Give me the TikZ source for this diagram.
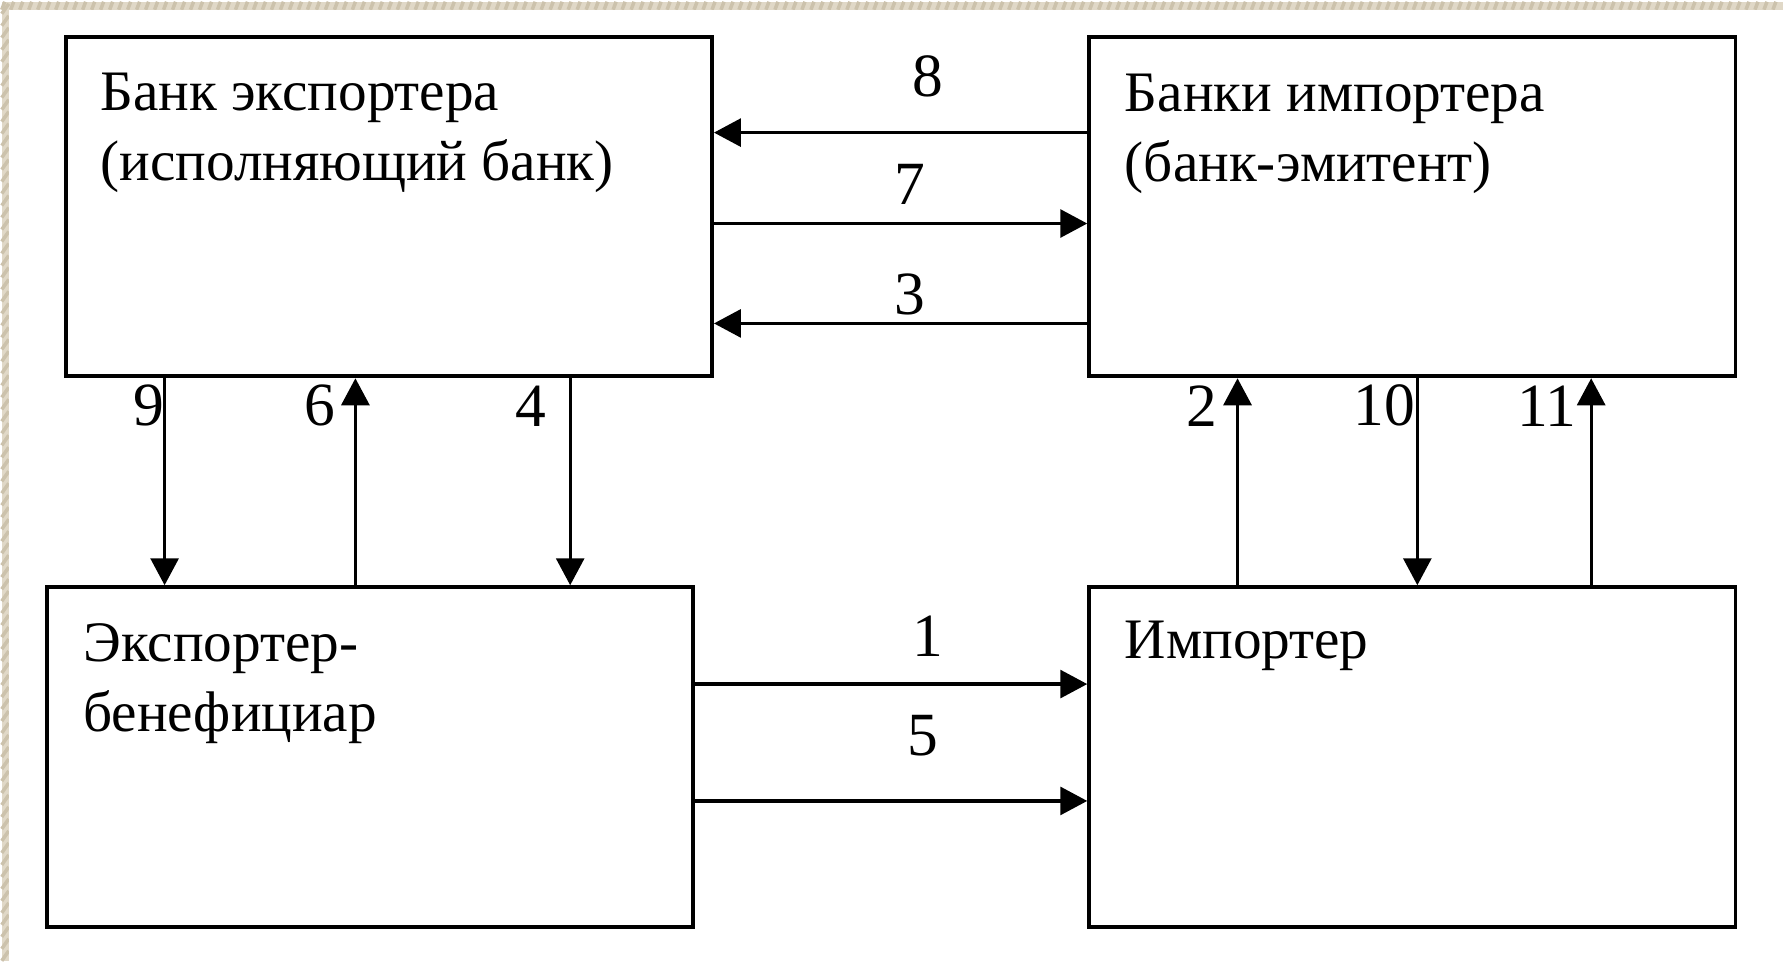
\documentclass[tikz,border=0pt]{standalone}
\usepackage{fontspec}
\setmainfont{Liberation Serif}
\usetikzlibrary{positioning}
\usetikzlibrary{arrows.meta}

\definecolor{paper}{RGB}{224,216,199}
\definecolor{paperdark}{RGB}{204,194,172}

\begin{document}
\begin{tikzpicture}[
	box/.style = {draw, line width=1.1pt, minimum width=6.47cm, minimum height=3.40cm, inner sep=0pt},
	boxtext/.style = {align=left, inner sep=0pt, font=\fontsize{16.3}{19.9}\selectfont},
	flow/.style = {line width=0.9pt, -{Triangle[length=0.27cm, width=0.28cm]}},
	num/.style = {inner sep=0pt, font=\fontsize{17.5}{19.9}\selectfont}
]

% paper

\fill [paper] (0,0) rectangle (17.83,9.60) ;
\foreach \xh in {0,0.09,...,17.8}
	\draw [paperdark, line width=1pt] (\xh,9.52) -- ++(0.03,0.08) ;
\foreach \yh in {0,0.12,...,9.5}
	\draw [paperdark, line width=1pt] (0,\yh) -- ++(0.07,0.1) ;
\fill [white] (0.07,0) rectangle (17.83,9.52) ;

% boxes

\node [box] (ebank) at (3.875,7.55) {} ;
\node [box] (ibank) at (14.12,7.55) {} ;
\node [box] (exporter) at (3.685,2.04) {} ;
\node [box] (importer) at (14.12,2.04) {} ;

\node [boxtext, below right=0.38cm and 0.36cm of ebank.north west] (ebanktext)
	{Банк экспортера\\(исполняющий банк)} ;
\node [boxtext, below right=0.39cm and 0.37cm of ibank.north west] (ibanktext)
	{Банки импортера\\(банк-эмитент)} ;
\node [boxtext, below right=0.38cm and 0.38cm of exporter.north west] (exportertext)
	{Экспортер-\\бенефициар} ;
\node [boxtext, below right=0.35cm and 0.37cm of importer.north west] (importertext)
	{Импортер} ;

% flows between the banks

\draw [flow] (ibank.west |- 0,8.29) -- (ebank.east |- 0,8.29)
	node [num, pos=0.427, above=0.34cm] (n8) {8} ;
\draw [flow] (ebank.east |- 0,7.38) -- (ibank.west |- 0,7.38)
	node [num, pos=0.525, above=0.17cm] (n7) {7} ;
\draw [flow] (ibank.west |- 0,6.38) -- (ebank.east |- 0,6.38)
	node [num, pos=0.475, above=0.07cm] (n3) {3} ;

% flows between exporter and its bank

\draw [flow] (ebank.south -| 1.63,0) -- (exporter.north -| 1.63,0)
	node [num, pos=0.133, left=-0.015cm] (n9) {9} ;
\draw [flow] (exporter.north -| 3.54,0) -- (ebank.south -| 3.54,0)
	node [num, pos=0.867, left=0.185cm] (n6) {6} ;
\draw [flow] (ebank.south -| 5.69,0) -- (exporter.north -| 5.69,0)
	node [num, pos=0.133, left=0.225cm] (n4) {4} ;

% flows between importer and its bank

\draw [flow] (importer.north -| 12.37,0) -- (ibank.south -| 12.37,0)
	node [num, pos=0.867, left=0.185cm] (n2) {2} ;
\draw [flow] (ibank.south -| 14.17,0) -- (importer.north -| 14.17,0)
	node [num, pos=0.133, left=0.01cm] (n10) {10} ;
\draw [flow] (importer.north -| 15.91,0) -- (ibank.south -| 15.91,0)
	node [num, pos=0.867, left=0.13cm] (n11) {11} ;

% flows between exporter and importer

\draw [flow] (exporter.east |- 0,2.77) -- (importer.west |- 0,2.77)
	node [num, pos=0.593, above=0.26cm] (n1) {1} ;
\draw [flow] (exporter.east |- 0,1.60) -- (importer.west |- 0,1.60)
	node [num, pos=0.58, above=0.43cm] (n5) {5} ;

\end{tikzpicture}
\end{document}
